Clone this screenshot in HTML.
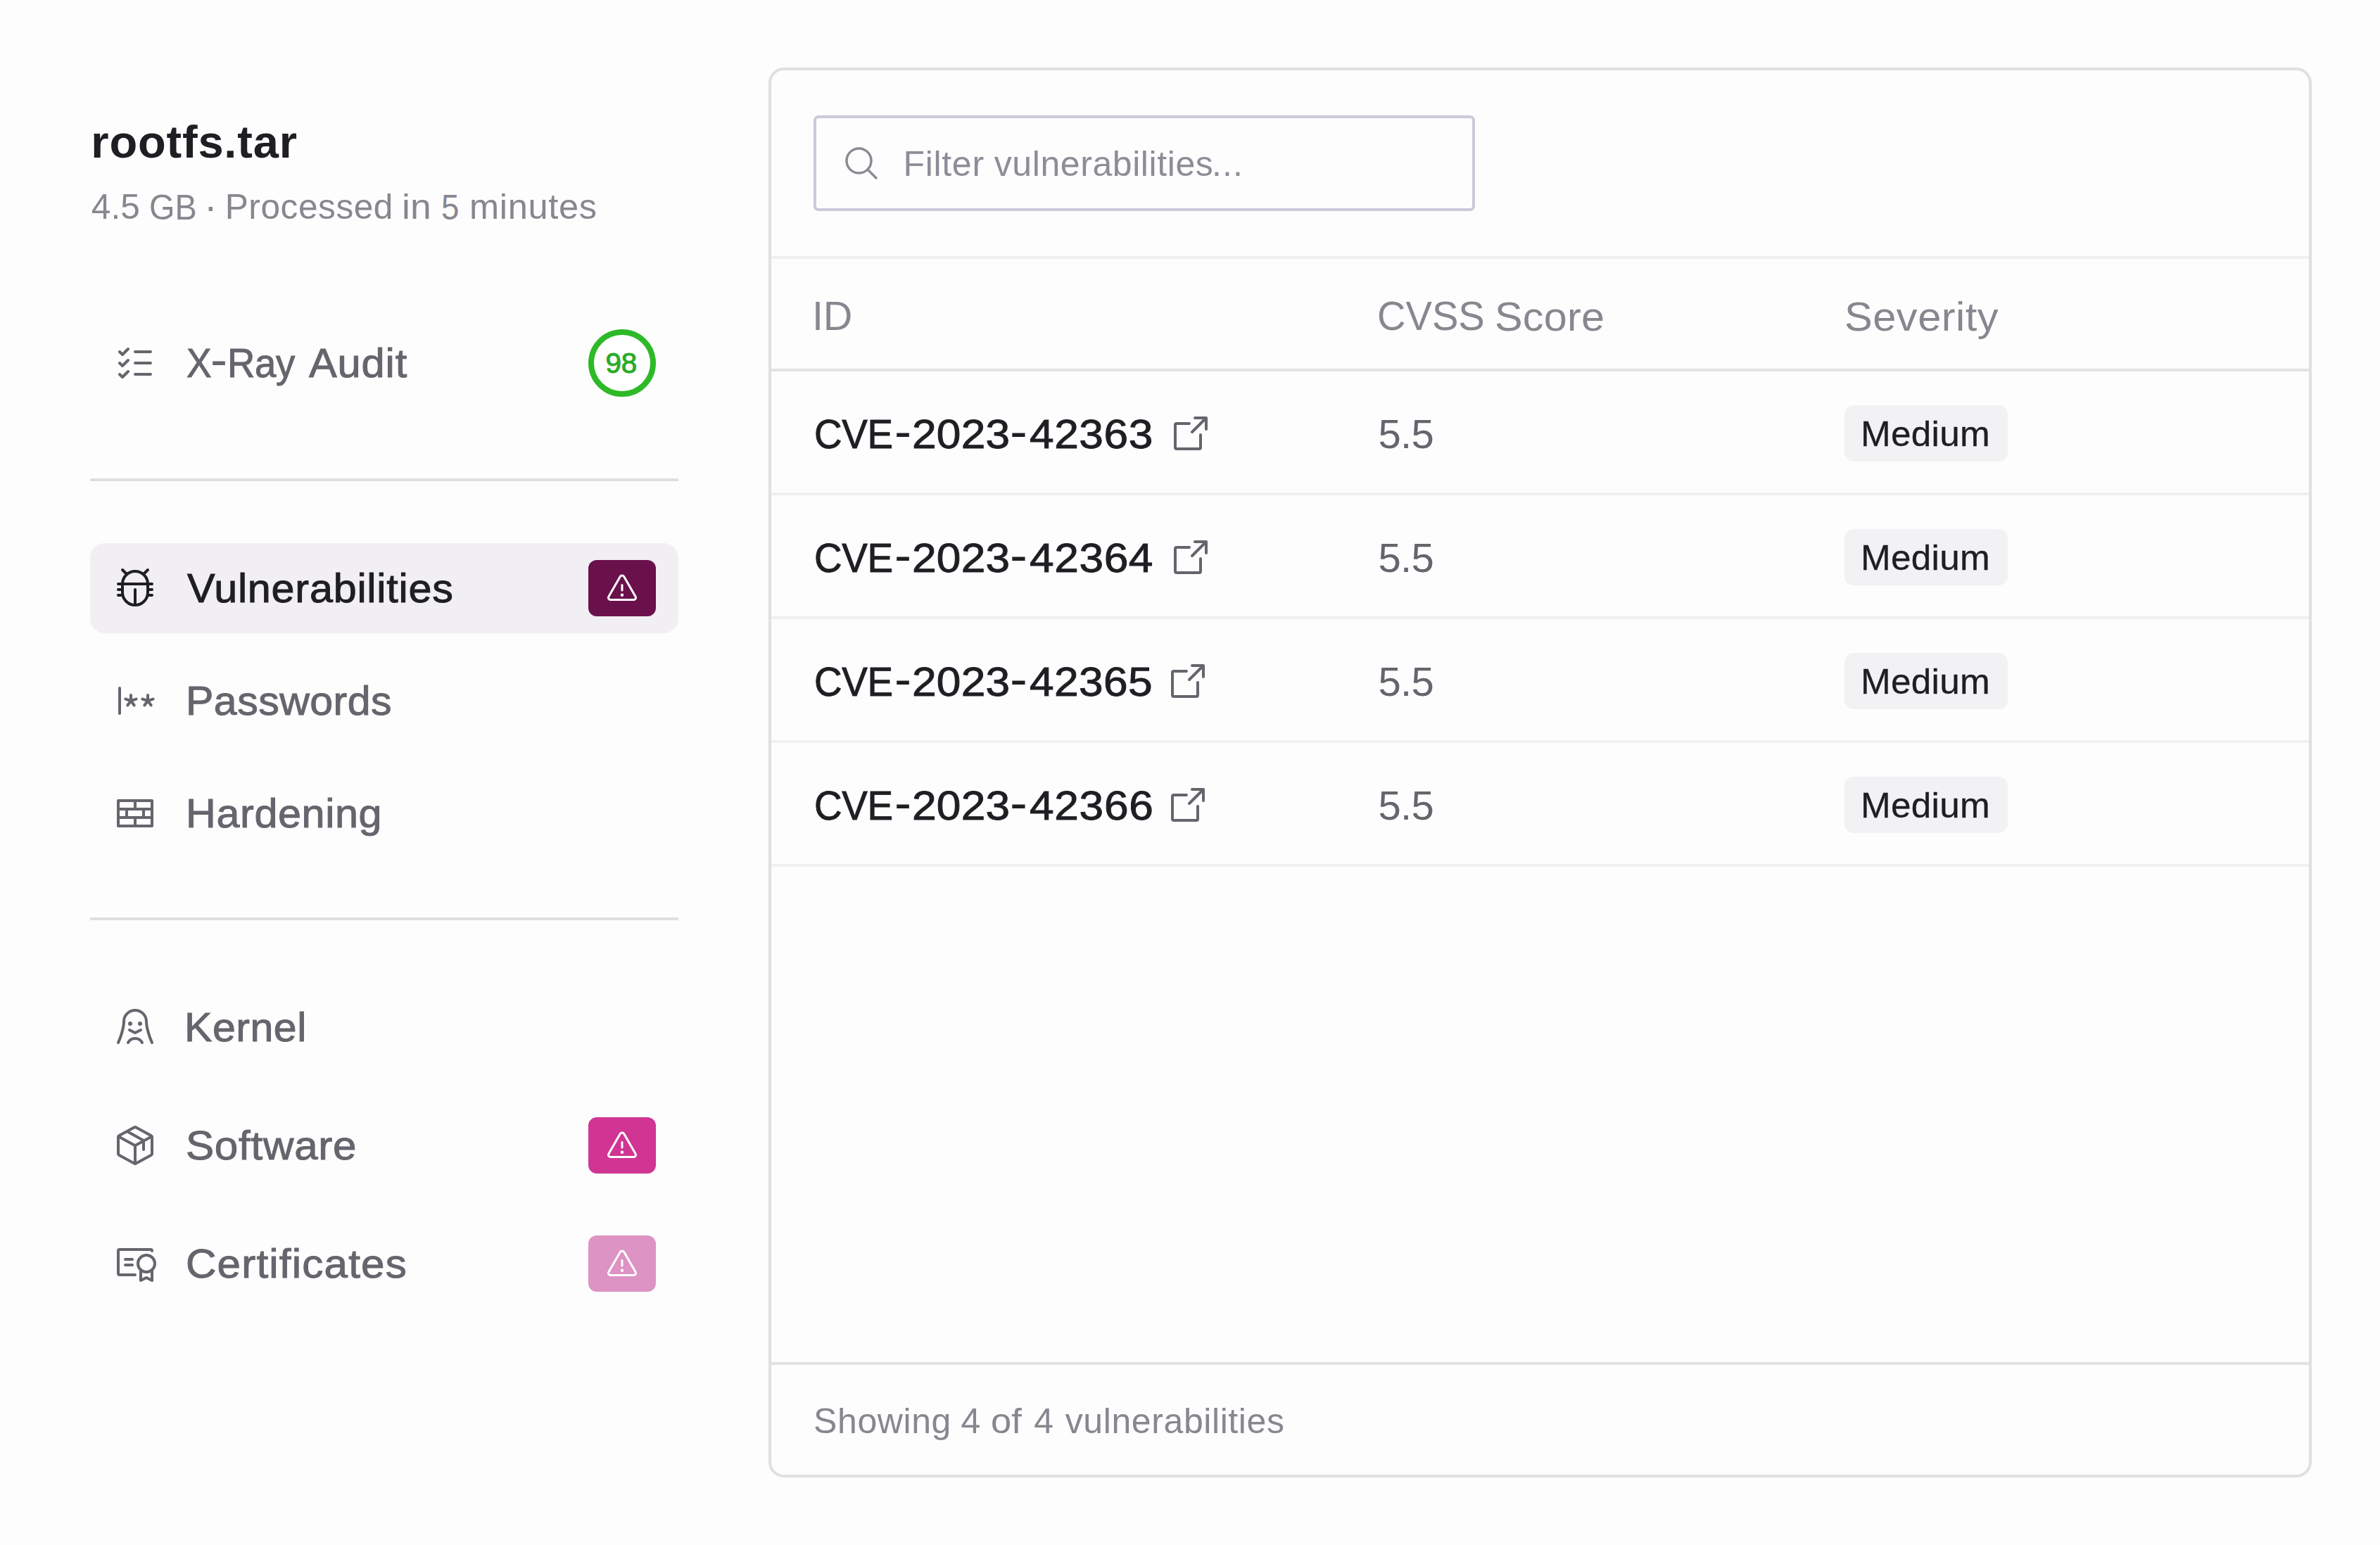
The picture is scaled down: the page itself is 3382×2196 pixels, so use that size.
<!DOCTYPE html>
<html lang="en"><head><meta charset="utf-8"><title>rootfs.tar - Vulnerabilities</title>
<style>
html,body{margin:0;padding:0}
body{width:3382px;height:2196px;background:#fdfdfd;position:relative;overflow:hidden;font-family:"Liberation Sans",sans-serif}
.t{position:absolute;white-space:nowrap;line-height:1;margin:0}
.i{position:absolute;display:block;overflow:visible}
.b{position:absolute;box-sizing:border-box}
</style></head><body>

<div class="b" style="left:128px;top:680px;width:836px;height:4px;background:#dfdfe1"></div>
<div class="b" style="left:128px;top:1304px;width:836px;height:4px;background:#dfdfe1"></div>
<div class="b" style="left:128px;top:772px;width:836px;height:128px;border-radius:21px;background:#f1eff2"></div>
<svg class="i" style="left:836px;top:468px" width="96" height="96" viewBox="0 0 96 96"><circle cx="48" cy="48" r="44" fill="#fff" stroke="#2db928" stroke-width="8"/></svg>
<div class="b" style="left:836px;top:796px;width:96px;height:80px;border-radius:12px;background:#6a114c"></div>
<svg class="i" style="left:860px;top:812.4px;color:#fff" width="48" height="48" viewBox="0 0 256 256" fill="none" stroke="currentColor" stroke-width="16" stroke-linecap="round" stroke-linejoin="round"><path d="M142.41 40.22l87.46 151.87C236 202.79 228.08 216 215.46 216H40.54C27.92 216 20 202.79 26.13 192.09L113.59 40.22C119.89 29.26 136.11 29.26 142.41 40.22ZM128 144V104"/><circle cx="128" cy="180" r="12" fill="currentColor" stroke="none"/></svg>
<div class="b" style="left:836px;top:1588px;width:96px;height:80px;border-radius:12px;background:#d03594"></div>
<svg class="i" style="left:860px;top:1604.4px;color:#fff" width="48" height="48" viewBox="0 0 256 256" fill="none" stroke="currentColor" stroke-width="16" stroke-linecap="round" stroke-linejoin="round"><path d="M142.41 40.22l87.46 151.87C236 202.79 228.08 216 215.46 216H40.54C27.92 216 20 202.79 26.13 192.09L113.59 40.22C119.89 29.26 136.11 29.26 142.41 40.22ZM128 144V104"/><circle cx="128" cy="180" r="12" fill="currentColor" stroke="none"/></svg>
<div class="b" style="left:836px;top:1756px;width:96px;height:80px;border-radius:12px;background:#dd93c3"></div>
<svg class="i" style="left:860px;top:1772.4px;color:#fff" width="48" height="48" viewBox="0 0 256 256" fill="none" stroke="currentColor" stroke-width="16" stroke-linecap="round" stroke-linejoin="round"><path d="M142.41 40.22l87.46 151.87C236 202.79 228.08 216 215.46 216H40.54C27.92 216 20 202.79 26.13 192.09L113.59 40.22C119.89 29.26 136.11 29.26 142.41 40.22ZM128 144V104"/><circle cx="128" cy="180" r="12" fill="currentColor" stroke="none"/></svg>
<svg class="i" style="left:160px;top:484px;color:#65656d" width="64" height="64" viewBox="0 0 256 256" fill="none" stroke="currentColor" stroke-width="16" stroke-linecap="round" stroke-linejoin="round"><path d="M128 128H216M128 64H216M128 192H216M40 64l16 16 32-32M40 128l16 16 32-32M40 192l16 16 32-32"/></svg>
<svg class="i" style="left:160px;top:804px;color:#1e1e23" width="64" height="64" viewBox="0 0 256 256" fill="none" stroke="currentColor" stroke-width="16" stroke-linecap="round" stroke-linejoin="round"><path d="M56 104a72 72 0 0 1 144 0v48a72 72 0 0 1-144 0ZM32 104H224M128 136V224M32 136H56M32 168H57M200 136H224M199 168H224M56 24l25 25M200 24l-25 25"/></svg>
<svg class="i" style="left:160px;top:964px;color:#65656d" width="64" height="64" viewBox="0 0 256 256" fill="none" stroke="currentColor" stroke-width="16" stroke-linecap="round" stroke-linejoin="round"><path d="M40 56V200"/><path d="M104 128V96M104 128l-30.43-9.89M104 128l30.43-9.89M104 128l-18.81 25.89M104 128l18.81 25.89"/><path d="M200 128V96M200 128l-30.43-9.89M200 128l30.43-9.89M200 128l-18.81 25.89M200 128l18.81 25.89"/></svg>
<svg class="i" style="left:160px;top:1124px;color:#65656d" width="64" height="64" viewBox="0 0 256 256" fill="none" stroke="currentColor" stroke-width="16" stroke-linecap="round" stroke-linejoin="round"><path d="M32 56H224V200H32ZM32 104H224M32 152H224M128 56V104M80 104V152M176 104V152M128 152V200"/></svg>
<svg class="i" style="left:160px;top:1428px;color:#65656d" width="64" height="64" viewBox="0 0 256 256" fill="none" stroke="currentColor" stroke-width="16" stroke-linecap="round" stroke-linejoin="round"><path d="M32 216C46 186 64 130 64 96a64 64 0 0 1 128 0c0 34 18 90 32 120M96 144l32 16 32-16M88 216a45.3 45.3 0 0 1 80 0"/><circle cx="100" cy="108" r="12" fill="currentColor" stroke="none"/><circle cx="156" cy="108" r="12" fill="currentColor" stroke="none"/></svg>
<svg class="i" style="left:160px;top:1596px;color:#65656d" width="64" height="64" viewBox="0 0 256 256" fill="none" stroke="currentColor" stroke-width="16" stroke-linecap="round" stroke-linejoin="round"><path d="M32.7 76.92L128 129.08l95.3-52.16M128 129.09V232M219.84 182.84l-88 48.18a8 8 0 0 1-7.68 0l-88-48.18a8 8 0 0 1-4.16-7V80.18a8 8 0 0 1 4.16-7l88-48.18a8 8 0 0 1 7.68 0l88 48.18a8 8 0 0 1 4.16 7v95.64a8 8 0 0 1-4.16 7.02ZM81.56 48.31L176 100v52"/></svg>
<svg class="i" style="left:160px;top:1764px;color:#65656d" width="64" height="64" viewBox="0 0 256 256" fill="none" stroke="currentColor" stroke-width="16" stroke-linecap="round" stroke-linejoin="round"><path d="M72 136h40M72 104h40M128 192H40a8 8 0 0 1-8-8V56a8 8 0 0 1 8-8H216a8 8 0 0 1 8 8M160 164v60l32-16 32 16v-60"/><circle cx="192" cy="128" r="48"/></svg>
<div class="b" style="left:1092px;top:96px;width:2193px;height:2004px;border:4px solid #e0e0e3;border-radius:22px"></div>
<div class="b" style="left:1156px;top:164px;width:940px;height:136px;border:4px solid #cbcad9;border-radius:7px"></div>
<svg class="i" style="left:1196px;top:204px;color:#8a8a94" width="56" height="56" viewBox="0 0 256 256" fill="none" stroke="currentColor" stroke-width="16" stroke-linecap="round" stroke-linejoin="round"><circle cx="112" cy="112" r="80"/><path d="M168.57 168.57L224 224"/></svg>
<div class="b" style="left:1096px;top:364px;width:2185px;height:4px;background:#f0f0f2"></div>
<div class="b" style="left:1096px;top:524px;width:2185px;height:4px;background:#e3e3e6"></div>
<div class="b" style="left:1096px;top:700px;width:2185px;height:4px;background:#f0f0f2"></div>
<div class="b" style="left:1096px;top:876px;width:2185px;height:4px;background:#f0f0f2"></div>
<div class="b" style="left:1096px;top:1052px;width:2185px;height:4px;background:#f0f0f2"></div>
<div class="b" style="left:1096px;top:1228px;width:2185px;height:4px;background:#f0f0f2"></div>
<div class="b" style="left:1096px;top:1936px;width:2185px;height:4px;background:#e1e1e4"></div>
<div class="b" style="left:2621px;top:576px;width:232px;height:80px;border-radius:13px;background:#f2f1f4"></div>
<svg class="i" style="left:1660px;top:584px;color:#65656d" width="64" height="64" viewBox="0 0 256 256" fill="none" stroke="currentColor" stroke-width="16" stroke-linecap="round" stroke-linejoin="round"><path d="M216 104V40H152M136 120L216 40M184 136v72a8 8 0 0 1-8 8H48a8 8 0 0 1-8-8V80a8 8 0 0 1 8-8h72"/></svg>
<div class="b" style="left:2621px;top:752px;width:232px;height:80px;border-radius:13px;background:#f2f1f4"></div>
<svg class="i" style="left:1660px;top:760px;color:#65656d" width="64" height="64" viewBox="0 0 256 256" fill="none" stroke="currentColor" stroke-width="16" stroke-linecap="round" stroke-linejoin="round"><path d="M216 104V40H152M136 120L216 40M184 136v72a8 8 0 0 1-8 8H48a8 8 0 0 1-8-8V80a8 8 0 0 1 8-8h72"/></svg>
<div class="b" style="left:2621px;top:928px;width:232px;height:80px;border-radius:13px;background:#f2f1f4"></div>
<svg class="i" style="left:1656px;top:936px;color:#65656d" width="64" height="64" viewBox="0 0 256 256" fill="none" stroke="currentColor" stroke-width="16" stroke-linecap="round" stroke-linejoin="round"><path d="M216 104V40H152M136 120L216 40M184 136v72a8 8 0 0 1-8 8H48a8 8 0 0 1-8-8V80a8 8 0 0 1 8-8h72"/></svg>
<div class="b" style="left:2621px;top:1104px;width:232px;height:80px;border-radius:13px;background:#f2f1f4"></div>
<svg class="i" style="left:1656px;top:1112px;color:#65656d" width="64" height="64" viewBox="0 0 256 256" fill="none" stroke="currentColor" stroke-width="16" stroke-linecap="round" stroke-linejoin="round"><path d="M216 104V40H152M136 120L216 40M184 136v72a8 8 0 0 1-8 8H48a8 8 0 0 1-8-8V80a8 8 0 0 1 8-8h72"/></svg>
<div class="t" id="title_0" style="left:129.27px;top:168.98px;font-size:65.0px;font-weight:700;letter-spacing:0.823px;color:#1e1e23;">rootfs.tar</div>
<div class="t" id="sub_0" style="left:129.74px;top:270.01px;font-size:49.6px;font-weight:400;letter-spacing:0.101px;color:#87878f;">4.5</div>
<div class="t" id="sub_1" style="left:212.42px;top:271.31px;font-size:49.6px;font-weight:400;letter-spacing:-0.065px;color:#87878f;transform:scaleX(0.945);transform-origin:0 0;">GB</div>
<div class="t" id="sub_2" style="left:290.01px;top:264.60px;font-size:56px;font-weight:400;letter-spacing:0.000px;color:#87878f;">·</div>
<div class="t" id="sub_3" style="left:319.69px;top:270.01px;font-size:49.6px;font-weight:400;letter-spacing:0.557px;color:#87878f;">Processed</div>
<div class="t" id="sub_4" style="left:570.80px;top:270.01px;font-size:49.6px;font-weight:400;letter-spacing:0.097px;color:#87878f;transform:scaleX(1.080);transform-origin:0 0;">in</div>
<div class="t" id="sub_5" style="left:626.74px;top:271.35px;font-size:49.6px;font-weight:400;letter-spacing:0.000px;color:#87878f;transform:scaleX(0.923);transform-origin:0 0;">5</div>
<div class="t" id="sub_6" style="left:667.24px;top:270.01px;font-size:49.6px;font-weight:400;letter-spacing:0.637px;color:#87878f;transform:scaleX(1.020);transform-origin:0 0;">minutes</div>
<div class="t" id="xray_0" style="left:264.77px;top:487.83px;font-size:57.6px;font-weight:400;letter-spacing:0.000px;color:#65656d;-webkit-text-stroke:1.0px #65656d;transform:scaleX(0.927);transform-origin:0 0;">X</div>
<div class="t" id="xray_1" style="left:298.91px;top:475.74px;font-size:70px;font-weight:400;letter-spacing:0.000px;color:#65656d;transform:scaleX(1.032);transform-origin:0 0;">-</div>
<div class="t" id="xray_2" style="left:323.24px;top:487.83px;font-size:57.6px;font-weight:400;letter-spacing:-0.283px;color:#65656d;-webkit-text-stroke:1.0px #65656d;transform:scaleX(0.945);transform-origin:0 0;">Ray</div>
<div class="t" id="xray_3" style="left:438.85px;top:487.83px;font-size:57.6px;font-weight:400;letter-spacing:0.818px;color:#65656d;-webkit-text-stroke:1.0px #65656d;transform:scaleX(1.035);transform-origin:0 0;">Audit</div>
<div class="t" id="vuln_0" style="left:266.18px;top:807.83px;font-size:57.6px;font-weight:400;letter-spacing:0.745px;color:#1e1e23;-webkit-text-stroke:1.0px #1e1e23;transform:scaleX(1.030);transform-origin:0 0;">Vulnerabilities</div>
<div class="t" id="pass_0" style="left:263.77px;top:967.83px;font-size:57.6px;font-weight:400;letter-spacing:0.469px;color:#65656d;-webkit-text-stroke:1.0px #65656d;transform:scaleX(1.025);transform-origin:0 0;">Passwords</div>
<div class="t" id="hard_0" style="left:263.59px;top:1127.83px;font-size:57.6px;font-weight:400;letter-spacing:0.582px;color:#65656d;-webkit-text-stroke:1.0px #65656d;transform:scaleX(1.030);transform-origin:0 0;">Hardening</div>
<div class="t" id="kern_0" style="left:261.77px;top:1431.83px;font-size:57.6px;font-weight:400;letter-spacing:0.517px;color:#65656d;-webkit-text-stroke:1.0px #65656d;transform:scaleX(1.025);transform-origin:0 0;">Kernel</div>
<div class="t" id="soft_0" style="left:264.32px;top:1599.54px;font-size:57.6px;font-weight:400;letter-spacing:0.693px;color:#65656d;-webkit-text-stroke:1.0px #65656d;transform:scaleX(1.045);transform-origin:0 0;">Software</div>
<div class="t" id="cert_0" style="left:264.26px;top:1767.72px;font-size:57.6px;font-weight:400;letter-spacing:1.108px;color:#65656d;-webkit-text-stroke:1.0px #65656d;transform:scaleX(1.045);transform-origin:0 0;">Certificates</div>
<div class="t" id="ph_0" style="left:1283.42px;top:207.68px;font-size:50.0px;font-weight:400;letter-spacing:0.704px;color:#8d8d97;">Filter</div>
<div class="t" id="ph_1" style="left:1412.76px;top:207.68px;font-size:50.0px;font-weight:400;letter-spacing:0.579px;color:#8d8d97;">vulnerabilities</div>
<div class="t" id="ph_2" style="left:1722.11px;top:207.68px;font-size:50.0px;font-weight:400;letter-spacing:1.059px;color:#8d8d97;">...</div>
<div class="t" id="hid_0" style="left:1154.01px;top:421.24px;font-size:57.6px;font-weight:400;letter-spacing:-0.335px;color:#87878f;">ID</div>
<div class="t" id="hcvss_0" style="left:1956.87px;top:421.31px;font-size:57.6px;font-weight:400;letter-spacing:-0.059px;color:#87878f;transform:scaleX(0.975);transform-origin:0 0;">CVSS</div>
<div class="t" id="hcvss_1" style="left:2123.78px;top:422.13px;font-size:57.6px;font-weight:400;letter-spacing:0.239px;color:#87878f;transform:scaleX(1.030);transform-origin:0 0;">Score</div>
<div class="t" id="hsev_0" style="left:2620.69px;top:422.13px;font-size:57.6px;font-weight:400;letter-spacing:0.455px;color:#87878f;transform:scaleX(1.035);transform-origin:0 0;">Severity</div>
<div class="t" id="cve1_0" style="left:1156.71px;top:589.07px;font-size:57.4px;font-weight:400;letter-spacing:-0.320px;color:#1e1e23;-webkit-text-stroke:0.95px #1e1e23;transform:scaleX(0.955);transform-origin:0 0;">CVE</div>
<div class="t" id="cve1_1" style="left:1270.67px;top:577.74px;font-size:70px;font-weight:400;letter-spacing:0.000px;color:#1e1e23;transform:scaleX(1.032);transform-origin:0 0;">-</div>
<div class="t" id="cve1_2" style="left:1295.80px;top:589.00px;font-size:57.4px;font-weight:400;letter-spacing:0.206px;color:#1e1e23;-webkit-text-stroke:0.95px #1e1e23;transform:scaleX(1.085);transform-origin:0 0;">2023</div>
<div class="t" id="cve1_3" style="left:1435.35px;top:577.74px;font-size:70px;font-weight:400;letter-spacing:0.000px;color:#1e1e23;transform:scaleX(1.066);transform-origin:0 0;">-</div>
<div class="t" id="cve1_4" style="left:1462.99px;top:589.00px;font-size:57.4px;font-weight:400;letter-spacing:0.498px;color:#1e1e23;-webkit-text-stroke:0.95px #1e1e23;transform:scaleX(1.085);transform-origin:0 0;">42363</div>
<div class="t" id="s1_0" style="left:1958.40px;top:587.79px;font-size:58.0px;font-weight:400;letter-spacing:-0.600px;color:#65656d;">5.5</div>
<div class="t" id="m1_0" style="left:2643.92px;top:592.43px;font-size:50.0px;font-weight:400;letter-spacing:0.288px;color:#1e1e23;-webkit-text-stroke:0.3px #1e1e23;transform:scaleX(1.025);transform-origin:0 0;">Medium</div>
<div class="t" id="cve2_0" style="left:1156.71px;top:765.07px;font-size:57.4px;font-weight:400;letter-spacing:-0.320px;color:#1e1e23;-webkit-text-stroke:0.95px #1e1e23;transform:scaleX(0.955);transform-origin:0 0;">CVE</div>
<div class="t" id="cve2_1" style="left:1270.67px;top:753.74px;font-size:70px;font-weight:400;letter-spacing:0.000px;color:#1e1e23;transform:scaleX(1.032);transform-origin:0 0;">-</div>
<div class="t" id="cve2_2" style="left:1295.80px;top:765.00px;font-size:57.4px;font-weight:400;letter-spacing:0.206px;color:#1e1e23;-webkit-text-stroke:0.95px #1e1e23;transform:scaleX(1.085);transform-origin:0 0;">2023</div>
<div class="t" id="cve2_3" style="left:1435.35px;top:753.74px;font-size:70px;font-weight:400;letter-spacing:0.000px;color:#1e1e23;transform:scaleX(1.066);transform-origin:0 0;">-</div>
<div class="t" id="cve2_4" style="left:1462.99px;top:765.00px;font-size:57.4px;font-weight:400;letter-spacing:0.533px;color:#1e1e23;-webkit-text-stroke:0.95px #1e1e23;transform:scaleX(1.085);transform-origin:0 0;">42364</div>
<div class="t" id="s2_0" style="left:1958.40px;top:763.79px;font-size:58.0px;font-weight:400;letter-spacing:-0.600px;color:#65656d;">5.5</div>
<div class="t" id="m2_0" style="left:2643.92px;top:768.43px;font-size:50.0px;font-weight:400;letter-spacing:0.288px;color:#1e1e23;-webkit-text-stroke:0.3px #1e1e23;transform:scaleX(1.025);transform-origin:0 0;">Medium</div>
<div class="t" id="cve3_0" style="left:1156.71px;top:941.07px;font-size:57.4px;font-weight:400;letter-spacing:-0.320px;color:#1e1e23;-webkit-text-stroke:0.95px #1e1e23;transform:scaleX(0.955);transform-origin:0 0;">CVE</div>
<div class="t" id="cve3_1" style="left:1270.67px;top:929.74px;font-size:70px;font-weight:400;letter-spacing:0.000px;color:#1e1e23;transform:scaleX(1.032);transform-origin:0 0;">-</div>
<div class="t" id="cve3_2" style="left:1295.80px;top:941.00px;font-size:57.4px;font-weight:400;letter-spacing:0.206px;color:#1e1e23;-webkit-text-stroke:0.95px #1e1e23;transform:scaleX(1.085);transform-origin:0 0;">2023</div>
<div class="t" id="cve3_3" style="left:1435.35px;top:929.74px;font-size:70px;font-weight:400;letter-spacing:0.000px;color:#1e1e23;transform:scaleX(1.066);transform-origin:0 0;">-</div>
<div class="t" id="cve3_4" style="left:1462.99px;top:941.00px;font-size:57.4px;font-weight:400;letter-spacing:0.334px;color:#1e1e23;-webkit-text-stroke:0.95px #1e1e23;transform:scaleX(1.085);transform-origin:0 0;">42365</div>
<div class="t" id="s3_0" style="left:1958.40px;top:939.79px;font-size:58.0px;font-weight:400;letter-spacing:-0.600px;color:#65656d;">5.5</div>
<div class="t" id="m3_0" style="left:2643.92px;top:944.43px;font-size:50.0px;font-weight:400;letter-spacing:0.288px;color:#1e1e23;-webkit-text-stroke:0.3px #1e1e23;transform:scaleX(1.025);transform-origin:0 0;">Medium</div>
<div class="t" id="cve4_0" style="left:1156.71px;top:1117.07px;font-size:57.4px;font-weight:400;letter-spacing:-0.320px;color:#1e1e23;-webkit-text-stroke:0.95px #1e1e23;transform:scaleX(0.955);transform-origin:0 0;">CVE</div>
<div class="t" id="cve4_1" style="left:1270.67px;top:1105.74px;font-size:70px;font-weight:400;letter-spacing:0.000px;color:#1e1e23;transform:scaleX(1.032);transform-origin:0 0;">-</div>
<div class="t" id="cve4_2" style="left:1295.80px;top:1117.00px;font-size:57.4px;font-weight:400;letter-spacing:0.206px;color:#1e1e23;-webkit-text-stroke:0.95px #1e1e23;transform:scaleX(1.085);transform-origin:0 0;">2023</div>
<div class="t" id="cve4_3" style="left:1435.35px;top:1105.74px;font-size:70px;font-weight:400;letter-spacing:0.000px;color:#1e1e23;transform:scaleX(1.066);transform-origin:0 0;">-</div>
<div class="t" id="cve4_4" style="left:1462.99px;top:1117.00px;font-size:57.4px;font-weight:400;letter-spacing:0.625px;color:#1e1e23;-webkit-text-stroke:0.95px #1e1e23;transform:scaleX(1.085);transform-origin:0 0;">42366</div>
<div class="t" id="s4_0" style="left:1958.40px;top:1115.79px;font-size:58.0px;font-weight:400;letter-spacing:-0.600px;color:#65656d;">5.5</div>
<div class="t" id="m4_0" style="left:2643.92px;top:1120.43px;font-size:50.0px;font-weight:400;letter-spacing:0.288px;color:#1e1e23;-webkit-text-stroke:0.3px #1e1e23;transform:scaleX(1.025);transform-origin:0 0;">Medium</div>
<div class="t" id="foot_0" style="left:1156.12px;top:1994.97px;font-size:50.0px;font-weight:400;letter-spacing:0.573px;color:#87878f;">Showing</div>
<div class="t" id="foot_1" style="left:1365.49px;top:1994.67px;font-size:50.0px;font-weight:400;letter-spacing:0.000px;color:#87878f;">4</div>
<div class="t" id="foot_2" style="left:1407.93px;top:1994.67px;font-size:50.0px;font-weight:400;letter-spacing:-0.038px;color:#87878f;transform:scaleX(1.050);transform-origin:0 0;">of</div>
<div class="t" id="foot_3" style="left:1469.21px;top:1994.67px;font-size:50.0px;font-weight:400;letter-spacing:0.000px;color:#87878f;">4</div>
<div class="t" id="foot_4" style="left:1513.76px;top:1994.67px;font-size:50.0px;font-weight:400;letter-spacing:0.591px;color:#87878f;">vulnerabilities</div>
<div class="t" id="n98_0" style="left:860.39px;top:496.07px;font-size:40.5px;font-weight:400;letter-spacing:-0.092px;color:#2aab27;-webkit-text-stroke:1.0px #2aab27;">98</div>
</body></html>
